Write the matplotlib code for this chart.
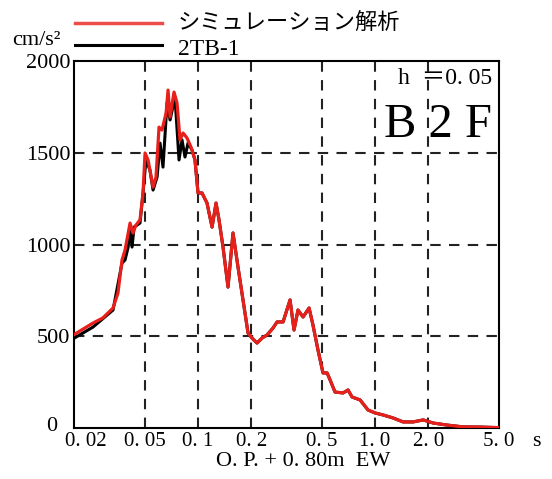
import matplotlib
matplotlib.use('Agg')
import matplotlib.pyplot as plt
from matplotlib.transforms import ScaledTranslation

# simulation (red) response spectrum, period [s] vs acceleration [cm/s2]
sim_period = [0.020, 0.0255, 0.0290, 0.0331, 0.0353, 0.0372, 0.0387, 0.0413, 0.0429, 0.0446,
              0.0470, 0.0489, 0.0502, 0.0522, 0.0557, 0.0579, 0.0602, 0.0626, 0.0660, 0.0677,
              0.0695, 0.0732, 0.0761, 0.0791, 0.0823, 0.0866, 0.0913, 0.0961, 0.100, 0.1053,
              0.1124, 0.120, 0.1264, 0.1314, 0.1384, 0.1477, 0.1576, 0.1682, 0.1795, 0.1916,
              0.2018, 0.2154, 0.2299, 0.2454, 0.2653, 0.2795, 0.3022, 0.331, 0.3485, 0.367,
              0.392, 0.424, 0.446, 0.476, 0.508, 0.536, 0.557, 0.594, 0.659, 0.704,
              0.741, 0.823, 0.913, 1.00, 1.11, 1.26, 1.44, 1.64, 1.87, 2.13,
              2.55, 3.14, 3.92, 5.0]
sim_acc = [510, 572, 600, 654, 736, 916, 970, 1117, 1063, 1106,
           1134, 1281, 1499, 1461, 1313, 1368, 1640, 1624, 1717, 1842,
           1695, 1831, 1771, 1570, 1608, 1581, 1531, 1461, 1281, 1281,
           1226, 1095, 1226, 1134, 986, 768, 1063, 877, 698, 518,
           490, 463, 490, 507, 545, 578, 578, 698, 534, 643,
           605, 654, 561, 425, 300, 300, 262, 196, 191, 207,
           169, 153, 98, 82, 71, 55, 33, 33, 44, 27,
           16, 6, 5, 2]

# observed record 2TB-1 (black), short-period part; beyond ~0.096 s it lies under the red line
obs_period = [0.020, 0.0255, 0.0331, 0.0372, 0.0387, 0.0403, 0.0413, 0.0424, 0.0435, 0.0470,
              0.0489, 0.0508, 0.0535, 0.0557, 0.0587, 0.0610, 0.0634, 0.0668, 0.0695, 0.0741,
              0.0781, 0.0812, 0.0844, 0.0878, 0.0925]
obs_acc = [490, 550, 643, 899, 916, 986, 1095, 986, 1095, 1117,
           1281, 1461, 1406, 1297, 1368, 1553, 1422, 1771, 1679, 1804,
           1461, 1570, 1477, 1553, 1515]
obs_period = obs_period + sim_period[27:]
obs_acc = obs_acc + sim_acc[27:]

xticks = [0.02, 0.05, 0.1, 0.2, 0.5, 1.0, 2.0, 5.0]
xticklabels = ['0. 02', '0. 05', '0. 1', '0. 2', '0. 5', '1. 0', '2. 0', '5. 0']
yticks = [0, 500, 1000, 1500, 2000]

serif = 'Liberation Serif'
jp = ['Liberation Serif', 'Noto Sans CJK JP']
red = '#e8201c'

fig = plt.figure(figsize=(5.52, 4.79), dpi=100)
ax = fig.add_axes([0.1346, 0.1065, 0.769, 0.766])

ax.plot(obs_period, obs_acc, color='black', lw=2.2, zorder=3)
ax.plot(sim_period, sim_acc, color=red, lw=2.3, zorder=4)

ax.set_xscale('log')
ax.set_xlim(0.02, 5.0)
ax.set_ylim(0, 2000)
ax.set_xticks(xticks)
ax.set_xticklabels(xticklabels, fontfamily=serif, fontsize=15)
ax.xaxis.set_minor_locator(matplotlib.ticker.NullLocator())
ax.set_yticks(yticks)
ax.set_yticklabels(['', '500', '1000', '1500', '2000'], fontfamily=serif, fontsize=16)
ax.tick_params(length=0, pad=3)
ax.tick_params(axis='x', pad=3)
# first period label sits to the right of the axis corner
first = ax.get_xticklabels()[0]
first.set_transform(first.get_transform() + ScaledTranslation(0.12, 0, fig.dpi_scale_trans))

for t in xticks[1:-1]:
    ax.axvline(t, color='#222222', lw=1.5, ls=(0, (5, 4)), zorder=2)
for v in yticks[1:-1]:
    ax.axhline(v, color='#222222', lw=1.5, ls=(0, (5, 4)), zorder=2)
for s in ax.spines.values():
    s.set_linewidth(1.5)

ax.text(-0.04, 0.004, '0', transform=ax.transAxes, ha='right', va='center',
        fontfamily=serif, fontsize=16)
ax.text(1.078, -0.012, 's', transform=ax.transAxes, ha='left', va='top',
        fontfamily=serif, fontsize=16)
ax.set_xlabel('O. P. + 0. 80m  EW', fontfamily=serif, fontsize=16, labelpad=1)
ax.xaxis.set_label_coords(0.54, -0.065)

ax.text(0.985, 0.98, 'h  ＝0. 05', transform=ax.transAxes, ha='right', va='top',
        family=jp, fontsize=17)
ax.text(0.985, 0.885, 'B 2 F', transform=ax.transAxes, ha='right', va='top',
        fontfamily=serif, fontsize=35)

# legend above the axes
fig.text(0.022, 0.916, 'cm/s²', fontfamily=serif, fontsize=16, ha='left', va='center')
fig.add_artist(plt.Line2D([0.136, 0.293], [0.952, 0.952], color=red, lw=2.5, alpha=0.8))
fig.add_artist(plt.Line2D([0.136, 0.293], [0.906, 0.906], color='black', lw=2.2))
fig.text(0.322, 0.952, 'シミュレーション解析', family=jp, fontsize=16, ha='left', va='center')
fig.text(0.322, 0.896, '2TB-1', fontfamily=serif, fontsize=17, ha='left', va='center')

fig.savefig('out.png', dpi=100)
